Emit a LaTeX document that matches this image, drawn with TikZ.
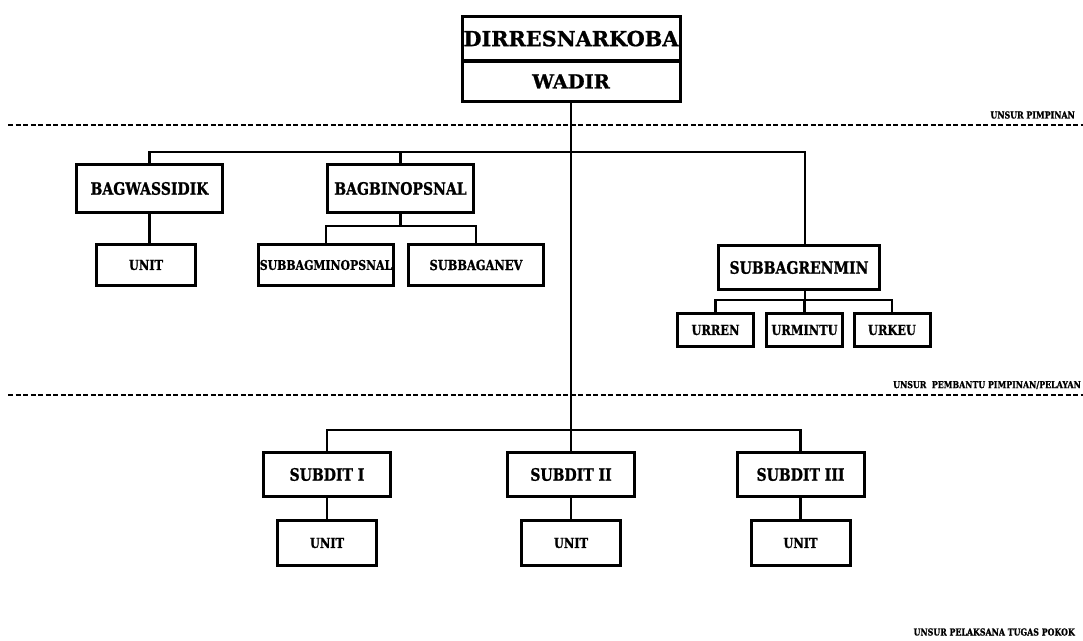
\documentclass[tikz,border=0pt]{standalone}
\usepackage{fontspec}
\setmainfont{DejaVu Serif}[FakeStretch=0.82, BoldFeatures={FakeBold=1}]
\newfontfamily\headfont{DejaVu Serif}[BoldFeatures={FakeBold=1}]
\usetikzlibrary{calc}
\tikzset{
  box/.style={draw, line width=3pt, inner sep=0pt, fill=white},
  head/.style={box, minimum width=218pt},
  big/.style={box, minimum width=146pt, minimum height=48pt, font=\fontsize{17.1}{19}\selectfont\bfseries},
  small/.style={box, minimum height=41pt, font=\fontsize{13.9}{15}\selectfont\bfseries},
  urbox/.style={box, minimum width=76pt, minimum height=33pt, font=\fontsize{13.9}{15}\selectfont\bfseries},
  conn/.style={line width=2.8pt},
  sep/.style={line width=1.6pt, dash pattern=on 5pt off 2.5pt},
  tag/.style={anchor=east, inner sep=0pt, font=\fontsize{9.6}{11}\selectfont\bfseries}
}

\begin{document}
\begin{tikzpicture}[x=1pt, y=-1pt]
\fill[white] (0,0) rectangle (1083,640);
\useasboundingbox (0,0) rectangle (1083,640);
% separators
\draw[sep] (8,125) -- (1083,125);
\draw[sep] (8,395) -- (1083,395);
\node[tag] (tpimp) at (1075,115) {UNSUR PIMPINAN};
\node[tag] (tbantu) at (1081,385) {UNSUR\ \ PEMBANTU PIMPINAN/PELAYAN};
\node[tag] (tlaks) at (1075,632) {UNSUR PELAKSANA TUGAS POKOK};
% head
\node[head, minimum height=44.7pt, font=\headfont\fontsize{20.8}{24}\selectfont\bfseries] (dir) at (571,38.6) {DIRRESNARKOBA};
\node[head, minimum height=40.7pt, font=\headfont\fontsize{19.4}{21}\selectfont\bfseries] (wadir) at (571,81.4) {WADIR};
\coordinate (j3) at (571,430);
% pembantu
\node[big] (bagwas) at (149.5,188.5) {BAGWASSIDIK};
\node[big] (bagbin) at (400.5,188.5) {BAGBINOPSNAL};
\node[big, minimum width=161pt, minimum height=44pt] (renmin) at (799,267.5) {SUBBAGRENMIN};
\node[small, minimum width=99pt] (unitw) at (146,265) {UNIT};
\node[small, minimum width=135pt, font=\fontsize{13.3}{15}\selectfont\bfseries] (minops) at (326,265) {SUBBAGMINOPSNAL};
\node[small, minimum width=135pt] (anev) at (476,265) {SUBBAGANEV};
\node[urbox] (urren) at (715.5,330) {URREN};
\node[urbox] (urmintu) at (804.5,330) {URMINTU};
\node[urbox] (urkeu) at (892,330) {URKEU};
% pelaksana
\node[big, minimum width=127pt, minimum height=44pt] (sub1) at (327,474.5) {SUBDIT I};
\node[big, minimum width=127pt, minimum height=44pt] (sub2) at (571,474.5) {SUBDIT II};
\node[big, minimum width=127pt, minimum height=44pt] (sub3) at (800.5,474.5) {SUBDIT III};
\node[small, minimum width=99pt, minimum height=45pt] (unit1) at (327,543) {UNIT};
\node[small, minimum width=99pt, minimum height=45pt] (unit2) at (571,543) {UNIT};
\node[small, minimum width=99pt, minimum height=45pt] (unit3) at (800.5,543) {UNIT};
% connectors
\draw[conn] (wadir.south) -- (j3);
\draw[conn] (bagwas.north) -- ++(0,-11) -| ([xshift=6pt]renmin.north);
\draw[conn] (bagbin.north) -- ++(0,-11);
\draw[conn] (bagwas.south) -- (bagwas.south |- unitw.north);
\draw[conn] (bagbin.south) -- ++(0,12);
\draw[conn] (minops.north) -- ++(0,-17) -| (anev.north);
\draw[conn] ([xshift=6pt]renmin.south) -- ++(0,9);
\draw[conn] (urren.north) -- ++(0,-12) -| (urkeu.north);
\draw[conn] (urmintu.north) -- ++(0,-12);
\draw[conn] (sub1.north) -- ++(0,-21) -| (sub3.north);
\draw[conn] (sub2.north) -- (j3);
\draw[conn] (sub1.south) -- (unit1.north);
\draw[conn] (sub2.south) -- (unit2.north);
\draw[conn] (sub3.south) -- (unit3.north);
\end{tikzpicture}
\end{document}
